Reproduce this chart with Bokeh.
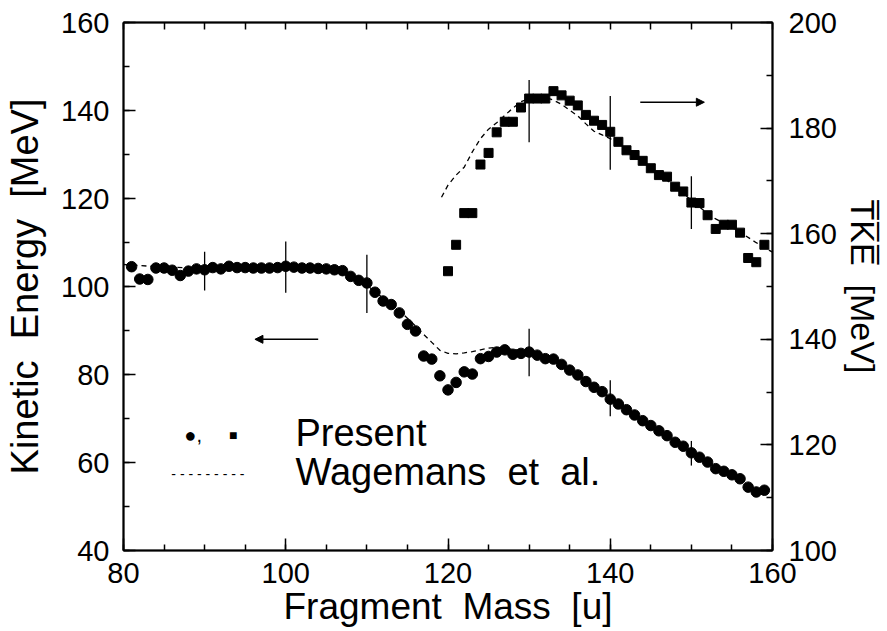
from bokeh.plotting import figure
from bokeh.models import (Range1d, LinearAxis, FixedTicker, Label, Arrow, NormalHead, ColumnDataSource)
from bokeh.embed import file_html
from bokeh.resources import INLINE

# ---------------- data ----------------
circle_mass = list(range(81, 160))
circle_ke = [104.5, 101.7, 101.6, 104.2, 104.2, 103.7, 102.5, 103.5, 104.0, 103.8,
             104.3, 104.0, 104.6, 104.3, 104.3, 104.2, 104.2, 104.2, 104.3, 104.6,
             104.4, 104.2, 104.2, 104.1, 104.0, 103.8, 103.6, 102.3, 101.4, 100.8,
             98.7, 96.7, 95.9, 94.0, 91.4, 89.9, 84.2, 83.5, 79.7, 76.5,
             78.2, 80.6, 80.1, 83.6, 84.1, 85.1, 85.6, 84.6, 84.8, 85.1,
             84.4, 83.6, 83.5, 82.3, 81.0, 79.9, 78.4, 77.1, 76.1, 74.4,
             73.3, 72.0, 70.8, 69.5, 68.4, 67.2, 66.1, 64.6, 63.7, 62.2,
             61.2, 60.1, 58.6, 58.0, 57.2, 56.3, 54.4, 53.3, 53.7]

square_mass = list(range(120, 160))
square_tke = [152.9, 157.9, 163.9, 163.9, 173.1, 175.3, 179.2, 181.2, 181.2, 183.9,
              185.6, 185.6, 185.6, 187.0, 186.2, 185.2, 184.3, 182.5, 181.4, 180.6,
              179.3, 177.4, 175.8, 174.9, 173.8, 172.4, 171.1, 170.8, 168.9, 168.0,
              165.9, 165.8, 163.5, 160.9, 161.7, 161.7, 160.2, 155.4, 154.6, 157.9]

wag_ke_mass = [80, 85, 90, 95, 100, 105, 107, 109, 111, 113, 115, 116, 117, 118, 119,
               120, 121, 122, 123, 124, 125, 126, 127, 128, 130, 132, 134, 136, 138,
               140, 142, 144, 146, 148, 150, 152, 154, 156, 158, 160]
wag_ke = [105.0, 104.4, 104.2, 104.3, 104.5, 104.3, 103.8, 101.8, 98.8, 96.0, 92.8,
          91.0, 89.1, 87.3, 85.5, 84.8, 84.7, 84.9, 85.2, 85.6, 86.0, 86.2, 86.0,
          85.7, 85.2, 84.0, 82.3, 80.0, 77.3, 74.6, 72.2, 69.7, 67.3, 64.8, 62.4,
          60.2, 58.2, 56.4, 54.3, 52.4]

wag_tke_mass = [119.2, 120, 121, 122, 123, 124, 125, 126, 127, 128, 129, 130, 131, 132,
                133, 134, 135, 136, 137, 138, 139, 140, 142, 144, 146, 148, 150, 151,
                152, 153, 154, 156, 158, 160]
wag_tke = [166.9, 169.2, 171.1, 172.6, 175.5, 178.0, 179.8, 181.0, 182.4, 183.8, 185.0,
           185.6, 185.8, 185.8, 185.3, 184.5, 183.4, 182.3, 180.8, 179.4, 178.7, 178.0,
           176.0, 173.6, 171.2, 169.0, 166.3, 165.1, 163.8, 162.8, 162.0, 160.3, 158.3,
           156.5]

err_ke_mass = [90, 100, 110, 130, 140, 150]
err_ke_center = [103.5, 104.4, 100.6, 85.0, 74.6, 62.1]
err_ke_half = [4.4, 5.8, 6.6, 5.4, 4.1, 2.8]

err_tke_mass = [130, 140, 150]
err_tke_center = [183.2, 179.1, 165.9]
err_tke_half = [5.9, 7.0, 5.0]

x_ticks = [80, 100, 120, 140, 160]
y_left_ticks = [40, 60, 80, 100, 120, 140, 160]
y_right_ticks = [100, 120, 140, 160, 180, 200]

FONT = "Liberation Sans"
SP = "\u00A0\u00A0"

p = figure(width=885, height=629, x_range=Range1d(80, 160), y_range=Range1d(40, 160),
           output_backend="svg", toolbar_location=None,
           min_border_left=123, min_border_right=113, min_border_top=22, min_border_bottom=77)
p.extra_y_ranges = {"right": Range1d(100, 200)}
p.grid.visible = False
p.outline_line_color = "black"
p.outline_line_width = 1.5
p.background_fill_color = "white"
p.border_fill_color = "white"

def style_axis(ax):
    ax.axis_line_width = 2
    ax.axis_line_color = "black"
    ax.major_tick_in = 12
    ax.major_tick_out = 0
    ax.minor_tick_in = 6
    ax.minor_tick_out = 0
    ax.major_tick_line_width = 1.5
    ax.minor_tick_line_width = 1.5
    ax.major_label_text_font = FONT
    ax.major_label_text_font_size = "29px"
    ax.major_label_text_color = "black"
    ax.axis_label_text_font = FONT
    ax.axis_label_text_font_size = "37px"
    ax.axis_label_text_font_style = "normal"
    ax.axis_label_text_color = "black"

xa = p.xaxis[0]
xa.ticker = FixedTicker(ticks=x_ticks, minor_ticks=list(range(80, 161, 5)))
xa.axis_label = "Fragment" + SP + "Mass" + SP + "[u]"
style_axis(xa)
xa.major_label_standoff = 12
xa.axis_label_standoff = 0

ya = p.yaxis[0]
ya.ticker = FixedTicker(ticks=y_left_ticks, minor_ticks=list(range(40, 161, 10)))
ya.axis_label = "Kinetic" + SP + "Energy" + SP + "[MeV]"
style_axis(ya)
ya.axis_label_text_font_size = "38px"
ya.major_label_standoff = 14
ya.axis_label_standoff = 12

ra = LinearAxis(y_range_name="right",
                ticker=FixedTicker(ticks=y_right_ticks, minor_ticks=list(range(100, 201, 10))),
                axis_label="T\u0305K\u0305E\u0305" + SP + "[MeV]")
style_axis(ra)
ra.axis_label_text_font_size = "34px"
ra.major_label_standoff = 16
ra.axis_label_standoff = 4
p.add_layout(ra, "right")

ta = LinearAxis(ticker=FixedTicker(ticks=[], minor_ticks=list(range(80, 161, 5))))
style_axis(ta)
ta.minor_tick_in = 7
ta.major_label_standoff = 0
p.add_layout(ta, "above")

# Wagemans dashed curves
p.line(wag_ke_mass, wag_ke, line_dash="5 4", line_color="black", line_width=1.3)
p.line(wag_tke_mass, wag_tke, line_dash="5 4", line_color="black", line_width=1.3,
       y_range_name="right")

# error bars
ke_err = ColumnDataSource(dict(x=err_ke_mass,
                               y0=[c - h for c, h in zip(err_ke_center, err_ke_half)],
                               y1=[c + h for c, h in zip(err_ke_center, err_ke_half)]))
p.segment(x0="x", y0="y0", x1="x", y1="y1", source=ke_err, line_color="black", line_width=1.3)
tke_err = ColumnDataSource(dict(x=err_tke_mass,
                                y0=[c - h for c, h in zip(err_tke_center, err_tke_half)],
                                y1=[c + h for c, h in zip(err_tke_center, err_tke_half)]))
p.segment(x0="x", y0="y0", x1="x", y1="y1", source=tke_err, line_color="black",
          line_width=1.3, y_range_name="right")

# data
p.scatter(circle_mass, circle_ke, marker="circle", size=10.5, fill_color="black",
          line_color="black")
p.scatter(square_mass, square_tke, marker="square", size=9, fill_color="black",
          line_color="black", y_range_name="right")

# arrows
p.add_layout(Arrow(end=NormalHead(size=8, fill_color="black", line_color="black"),
                   x_start=104.0, y_start=88.0, x_end=96.2, y_end=88.0,
                   line_width=1.5, line_color="black"))
p.add_layout(Arrow(end=NormalHead(size=8, fill_color="black", line_color="black"),
                   x_start=143.7, y_start=184.9, x_end=151.6, y_end=184.9,
                   line_width=1.5, line_color="black", y_range_name="right"))

# legend
p.add_layout(Label(x=87.5, y=66.2, text="\u25CF,", text_font=FONT, text_font_size="20px",
                   text_baseline="middle", text_color="black"))
p.add_layout(Label(x=93.0, y=66.3, text="\u25A0", text_font=FONT, text_font_size="14px",
                   text_baseline="middle", text_color="black"))
p.add_layout(Label(x=101.2, y=66.8, text="Present", text_font=FONT, text_font_size="38px",
                   text_baseline="middle", text_color="black"))
p.add_layout(Label(x=85.9, y=57.4, text="- - - - - - - - -", text_font=FONT,
                   text_font_size="14px", text_baseline="middle", text_color="black"))
p.add_layout(Label(x=101.2, y=57.8, text="Wagemans" + SP + "et" + SP + "al.",
                   text_font=FONT, text_font_size="38px", text_baseline="middle",
                   text_color="black"))

open("out.html", "w").write(file_html(p, INLINE))
